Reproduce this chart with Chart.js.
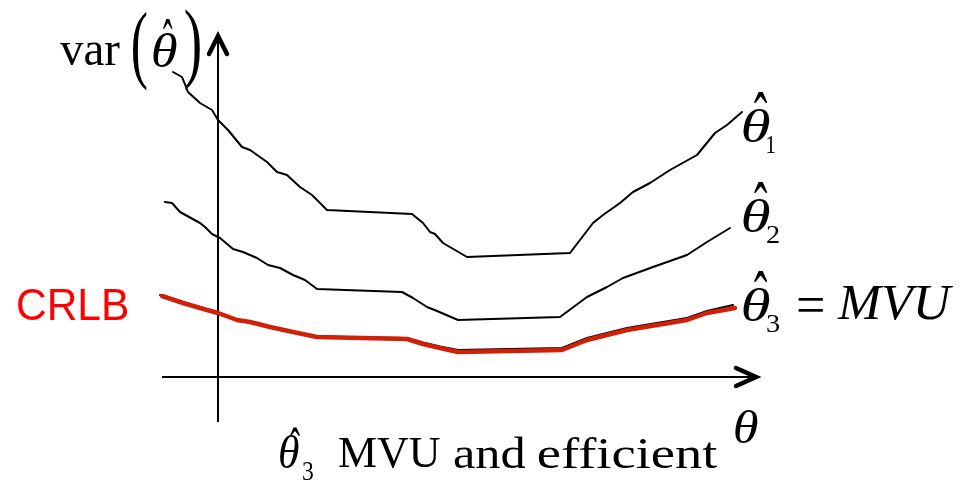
<!DOCTYPE html>
<html>
<head>
<meta charset="utf-8">
<script src="https://cdn.jsdelivr.net/npm/chart.js@4/dist/chart.umd.min.js"></script>
<style>
  html, body { margin: 0; padding: 0; background: #fff; }
  #c { display: block; }
</style>
</head>
<body>
<canvas id="c" width="970" height="482"></canvas>
<script>
// ---- Data (theta on x, variance on y; arbitrary units) ----
const theta1X = [-0.90,-0.72,-0.60,-0.36,-0.12,0.00,0.20,0.48,0.64,0.98,1.18,1.38,1.64,1.88,2.18,3.88,4.10,4.24,4.34,4.50,4.98,7.04,7.50,7.70,8.04,8.30,8.64,9.04,9.58,9.94,10.18,10.48];
const theta1Y = [6.10,6.00,5.70,5.48,5.34,5.14,4.94,4.60,4.54,4.30,4.10,4.04,3.80,3.64,3.34,3.26,3.08,2.90,2.86,2.68,2.40,2.48,3.08,3.24,3.48,3.70,3.88,4.14,4.44,4.88,5.04,5.30];

const theta2X = [-1.06,-0.92,-0.76,-0.36,-0.26,-0.12,0.04,0.30,0.50,0.78,1.00,1.24,1.50,1.74,1.98,3.68,3.90,4.18,4.38,4.80,6.84,7.38,7.78,8.10,8.70,9.38,9.78,10.24];
const theta2Y = [3.50,3.48,3.30,3.08,3.00,2.86,2.78,2.56,2.50,2.38,2.24,2.18,2.04,1.94,1.76,1.70,1.58,1.40,1.32,1.14,1.20,1.60,1.80,1.98,2.20,2.44,2.70,2.98];

const theta3X = [-1.16,-1.00,-0.70,-0.22,0.00,0.38,0.64,1.04,1.50,1.98,3.78,4.10,4.44,4.80,6.88,7.38,8.18,9.38,9.78,10.30];
const theta3Y = [1.64,1.60,1.50,1.35,1.29,1.15,1.11,1.01,0.91,0.81,0.78,0.69,0.61,0.54,0.58,0.78,0.98,1.18,1.32,1.44];

const crlbX = [-1.12,-1.00,-0.70,-0.22,0.00,0.38,0.64,1.04,1.50,1.98,3.78,4.10,4.44,4.80,6.88,7.38,8.18,9.38,9.78,10.34];
const crlbY = [1.62,1.58,1.48,1.34,1.28,1.14,1.10,1.00,0.90,0.80,0.76,0.66,0.58,0.50,0.54,0.74,0.94,1.14,1.28,1.38];

// axis extents (data units)
const xAxisFrom = -1.12, xAxisTo = 10.78;
const yAxisFrom = -0.90, yAxisTo = 6.84;

function pts(xs, ys) { return xs.map((x, i) => ({ x: x, y: ys[i] })); }

// fit a text string to a pixel box using its actual ink bounds
function fitText(ctx, text, font, color, x0, y0, x1, y1) {
  ctx.save();
  ctx.font = font;
  ctx.fillStyle = color;
  ctx.textAlign = 'left';
  ctx.textBaseline = 'alphabetic';
  const m = ctx.measureText(text);
  const w = m.actualBoundingBoxLeft + m.actualBoundingBoxRight;
  const h = m.actualBoundingBoxAscent + m.actualBoundingBoxDescent;
  ctx.translate(x0, y0);
  ctx.scale((x1 - x0) / w, (y1 - y0) / h);
  ctx.fillText(text, m.actualBoundingBoxLeft, m.actualBoundingBoxAscent);
  ctx.restore();
}

const SERIF = '"Liberation Serif", "DejaVu Serif", serif';

const decor = {
  id: 'decor',
  beforeDatasetsDraw(chart) {
    const ctx = chart.ctx;
    const xs = chart.scales.x, ys = chart.scales.y;
    const x0 = xs.getPixelForValue(0), y0 = ys.getPixelForValue(0);
    ctx.save();
    ctx.strokeStyle = '#000';
    ctx.lineWidth = 2;
    ctx.lineCap = 'butt';
    const yTop = ys.getPixelForValue(yAxisTo), yBot = ys.getPixelForValue(yAxisFrom);
    ctx.beginPath(); ctx.moveTo(x0, yBot); ctx.lineTo(x0, yTop + 2); ctx.stroke();
    const xL = xs.getPixelForValue(xAxisFrom), xR = xs.getPixelForValue(xAxisTo);
    ctx.beginPath(); ctx.moveTo(xL, y0); ctx.lineTo(xR - 2, y0); ctx.stroke();
    ctx.lineWidth = 4.5;
    ctx.lineCap = 'round';
    ctx.lineJoin = 'miter';
    ctx.beginPath();
    ctx.moveTo(x0 - 9, yTop + 19); ctx.lineTo(x0, yTop + 1); ctx.lineTo(x0 + 9, yTop + 19);
    ctx.stroke();
    ctx.beginPath();
    ctx.moveTo(xR - 21, y0 - 9); ctx.lineTo(xR - 1, y0); ctx.lineTo(xR - 21, y0 + 9);
    ctx.stroke();
    ctx.restore();
  },
  afterDraw(chart) {
    const ctx = chart.ctx;
    const K = '#000';
    // y-axis title: var( θ̂ )
    fitText(ctx, 'var', '48px ' + SERIF, K, 60, 42, 120, 65);
    fitText(ctx, '(', '48px ' + SERIF, K, 133, 10, 147, 92);
    fitText(ctx, 'θ', 'italic 48px ' + SERIF, K, 153, 32, 177, 67);
    fitText(ctx, 'ˆ', '40px ' + SERIF, K, 163, 19, 173, 29);
    fitText(ctx, ')', '48px ' + SERIF, K, 185, 8, 200, 92);

    // series labels
    const lab = [
      { ty: 108, sub: '1' },
      { ty: 198, sub: '2' },
      { ty: 287, sub: '3' }
    ];
    lab.forEach(l => {
      fitText(ctx, 'θ', 'italic 50px ' + SERIF, K, 743, l.ty, 770, l.ty + 34);
      fitText(ctx, 'ˆ', '40px ' + SERIF, K, 754, l.ty - 15, 768, l.ty - 4);
      fitText(ctx, l.sub, '26px ' + SERIF, K, 767, l.ty + 28, l.sub === '1' ? 775 : 779, l.ty + 45);
    });
    fitText(ctx, '=', '50px ' + SERIF, K, 798, 298, 823, 312);
    fitText(ctx, 'MVU', 'italic 54px ' + SERIF, K, 837, 285, 953, 320);

    // CRLB label
    fitText(ctx, 'CRLB', '41px "Liberation Sans", Arial, sans-serif', '#ff0000', 18, 290, 128, 320);

    // bottom caption
    fitText(ctx, 'θ', 'italic 46px ' + SERIF, K, 280, 435, 299, 468);
    fitText(ctx, 'ˆ', '36px ' + SERIF, K, 290, 427, 300, 436);
    fitText(ctx, '3', '26px ' + SERIF, K, 303, 462, 313, 480);
    fitText(ctx, 'MVU', '45px ' + SERIF, K, 339, 438, 440, 468);
    fitText(ctx, 'and', '45px ' + SERIF, K, 454, 437, 525, 468);
    fitText(ctx, 'efficient', '45px ' + SERIF, K, 538, 437, 718, 468);
    // x-axis title θ
    fitText(ctx, 'θ', 'italic 48px ' + SERIF, K, 735, 410, 758, 443);
  }
};

new Chart(document.getElementById('c'), {
  type: 'scatter',
  data: {
    datasets: [
      { label: 'CRLB', data: pts(crlbX, crlbY), showLine: true, borderColor: '#d02008', borderWidth: 4.5, pointRadius: 0, tension: 0, order: 0 },
      { label: 'theta3', data: pts(theta3X, theta3Y), showLine: true, borderColor: '#000', borderWidth: 2, pointRadius: 0, tension: 0, order: 1 },
      { label: 'theta2', data: pts(theta2X, theta2Y), showLine: true, borderColor: '#000', borderWidth: 2, pointRadius: 0, tension: 0, order: 2 },
      { label: 'theta1', data: pts(theta1X, theta1Y), showLine: true, borderColor: '#000', borderWidth: 2, pointRadius: 0, tension: 0, order: 3 }
    ]
  },
  options: {
    responsive: false,
    animation: false,
    devicePixelRatio: 1,
    layout: { padding: 0 },
    plugins: { legend: { display: false }, tooltip: { enabled: false }, title: { display: false } },
    elements: { line: { borderCapStyle: 'round', borderJoinStyle: 'round' } },
    scales: {
      x: { type: 'linear', min: -4.36, max: 15.04, display: false },
      y: { type: 'linear', min: -2.1, max: 7.54, display: false }
    }
  },
  plugins: [decor]
});
</script>
</body>
</html>
